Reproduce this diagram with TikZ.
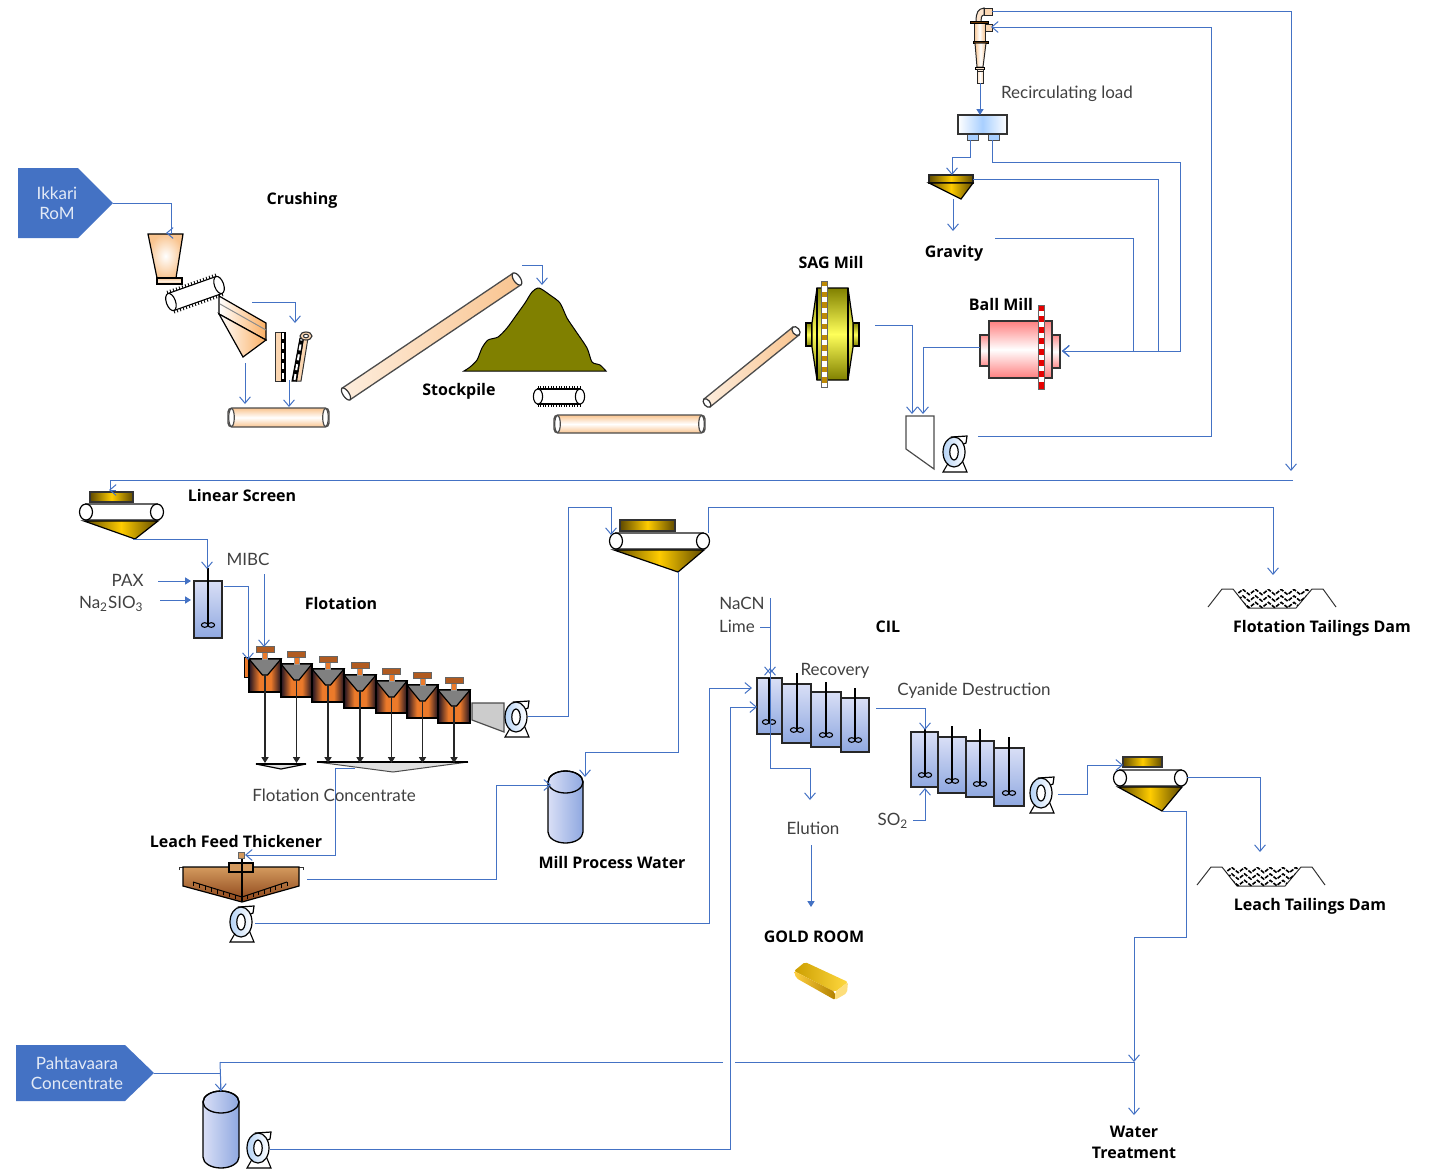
\documentclass[tikz,border=0pt]{standalone}
\usepackage{fontspec}
\setmainfont{Lato}
\newfontfamily\heavyfont{Open Sans}
\usetikzlibrary{arrows.meta}
\definecolor{flow}{HTML}{4472C4}
\definecolor{peach}{HTML}{F9C48F}
\definecolor{goldD}{HTML}{5F4A00}
\definecolor{goldM}{HTML}{FFCC00}
\definecolor{tankT}{HTML}{D9DFF6}
\definecolor{tankB}{HTML}{8FA8E0}
\definecolor{cellD}{HTML}{1E1222}
\definecolor{cellM}{HTML}{EC7A2A}
\definecolor{olive}{HTML}{808000}
\definecolor{txt}{HTML}{404040}
\definecolor{pumpB}{HTML}{B5D3F6}
\definecolor{distM}{HTML}{A8CFFF}
\definecolor{sagGear}{HTML}{BE8A06}
\definecolor{thickT}{HTML}{D49A5E}
\definecolor{thickB}{HTML}{8A4318}
\pgfdeclarehorizontalshading{cellshade}{100bp}{color(0bp)=(cellD); color(25bp)=(cellD); color(41bp)=(cellM); color(59bp)=(cellM); color(75bp)=(cellD); color(100bp)=(cellD)}
\tikzset{
  conn/.style={draw=flow,line width=.5pt,-{Straight Barb[length=3.2pt,width=5.4pt]}},
  connf/.style={draw=flow,line width=.5pt,-{Triangle[length=3pt,width=3.6pt]}},
  flowline/.style={draw=flow,line width=.5pt},
  outl/.style={draw=black,line width=.6pt},
  goldh/.style={left color=goldD,right color=goldD,middle color=goldM},
  tankv/.style={top color=tankT,bottom color=tankB},
  reg/.style={font=\fontsize{8.5}{10}\selectfont,text=txt,inner sep=0pt,yshift=-.6pt},
  hvy/.style={font=\heavyfont\bfseries\fontsize{8}{10.4}\selectfont,text=black,inner sep=0pt,align=center,yshift=-.6pt},
  pics/pumpunit/.style={code={
    \path[fill=white,draw=black,line width=.55pt] (-4,8) -- (-11,20) -- (13,20) -- (8,8) -- cycle;
    \path[draw=black,line width=.6pt,fill=white] (-2,-15) -- (13,-16) -- (12,-9) -- (7,-7) -- cycle;
    \path[draw=black,line width=.6pt,left color=pumpB,right color=white] (0,0) ellipse [x radius=11,y radius=15];
    \path[draw=black,line width=.6pt,fill=white] (0,0) ellipse [x radius=4.2,y radius=8];
  }},
  pics/damunit/.style={code={
    \draw[black!80,line width=.5pt] (-64,9) -- (-50,-9) -- (-39,-9) -- (-24,10) -- (24,10) -- (40,-9) -- (51,-9) -- (64,9);
    \begin{scope}
      \clip (-39,-9) -- (40,-9) -- (24,10) -- (-24,10) -- cycle;
      \foreach \ry in {-6,.5,7}
        \draw[black,line width=.8pt,dash pattern=on 2pt off .7pt]
          plot[samples at={0,...,13},variable=\k] ({-42+6.4*\k},{\ry+2.6*(2*mod(\k,2)-1)});
    \end{scope}
  }}
}
\newcommand\hshape[4]{% x1 y1 x2 y2 horizontal tube
  \path[draw=black!70,line width=.7pt,top color=peach,bottom color=peach,middle color=white,rounded corners=2pt] (#1,#2) rectangle (#3,#4);
  \path[draw=black!70,line width=.6pt,fill=white] ({#1+3.5},{(#2+#4)/2}) ellipse [x radius=2.8,y radius={(#4-#2)/2-.5}];
  \path[draw=black!70,line width=.6pt,fill=white] ({#3-3.5},{(#2+#4)/2}) ellipse [x radius=2.8,y radius={(#4-#2)/2-.5}];
}
\newcommand\slanttube[5]{% x1 y1 x2 y2 halfwidth
  \begin{scope}[shift={(#1,#2)}]
    \pgfmathsetmacro\tA{atan2(#2-#4,#3-#1)}
    \pgfmathsetmacro\tL{veclen(#3-#1,#4-#2)}
    \begin{scope}[rotate=\tA]
      \path[draw=black!70,line width=.65pt,left color=peach!30!white,right color=peach] (0,-#5) -- (\tL,-#5) -- (\tL,#5) -- (0,#5) -- cycle;
      \path[draw=black!80,line width=.6pt,fill=white] (0,0) ellipse [x radius=3,y radius=#5];
      \path[draw=black!80,line width=.6pt,fill=white] (\tL,0) ellipse [x radius=3.4,y radius=#5];
    \end{scope}
  \end{scope}
}
\newcommand\ticktube[5]{% cx cy angle half ry
  \begin{scope}[shift={(#1,#2)},rotate=#3]
    \foreach \t in {-1,-.875,...,1}{
      \draw[black,line width=.45pt] ({\t*#4},{-#5+1}) -- ({\t*#4},{-#5-3});
      \draw[black,line width=.45pt] ({\t*#4},{#5-1}) -- ({\t*#4},{#5+3});
    }
    \path[draw=black,line width=.55pt,fill=white] (-#4,-#5) -- (#4,-#5) -- (#4,#5) -- (-#4,#5) -- cycle;
    \path[draw=black,line width=.55pt,fill=white] (-#4,0) ellipse [x radius=4.6,y radius=#5];
    \path[draw=black,line width=.55pt,fill=white] (#4,0) ellipse [x radius=4.6,y radius=#5];
  \end{scope}
}
\newcommand\agtank[7]{% x1 y1 x2 y2 shafttop ix iy
  \path[draw=black!85,line width=.7pt,tankv] (#1,#2) rectangle (#3,#4);
  \draw[black,line width=.6pt] (#6,#5) -- (#6,#7);
  \draw[black,line width=.55pt] ({#6-3.3},#7) ellipse [x radius=3.3,y radius=2.3];
  \draw[black,line width=.55pt] ({#6+3.3},#7) ellipse [x radius=3.3,y radius=2.3];
}
\newcommand\scrunit[9]{% box x1 y1 x2 y2, lx rx cy, tip x y
  \path[draw=black!80,line width=.55pt,goldh] (#1,#2) rectangle (#3,#4);
  \path[draw=black!60,line width=.7pt,fill=white] (#5,{#7-8}) rectangle (#6,{#7+8});
  \path[draw=black,line width=.6pt,goldh] ({#5-2},{#7+9}) -- ({#6+1},{#7+9}) -- (#8,#9) -- cycle;
  \path[draw=black,line width=.6pt,fill=white] (#5,#7) ellipse [x radius=6.5,y radius=8];
  \path[draw=black,line width=.6pt,fill=white] (#6,#7) ellipse [x radius=6.5,y radius=8];
}
\newcommand\cylinder[4]{% x1 ytop x2 ybottom
  \path[draw=black,line width=.65pt,left color=tankT,right color=tankB]
    (#1,{#2+11}) arc[start angle=180,end angle=0,x radius={(#3-#1)/2},y radius=-11]
    -- (#3,{#4-11}) arc[start angle=0,end angle=-180,x radius={(#3-#1)/2},y radius=-11] -- cycle;
  \draw[black,line width=.65pt] ({(#1+#3)/2},{#2+11}) ellipse [x radius={(#3-#1)/2},y radius=11];
}
\begin{document}
\begin{tikzpicture}[x=.5pt,y=-.5pt]
\useasboundingbox (0,0) rectangle (1435,1168);
% ----- feed arrows
\path[fill=flow] (18,168) -- (78,168) -- (113,203) -- (78,238) -- (18,238) -- cycle;
\path[fill=flow] (16,1045) -- (125,1045) -- (154,1073) -- (125,1101) -- (16,1101) -- cycle;
\coordinate (ikkariTip) at (113,203);
\coordinate (pahtTip) at (154,1073);
% ----- crushing
\path[outl,inner color=white,outer color=peach] (148,234) -- (183,234) -- (176,278) -- (157,278) -- cycle;
\path[outl,top color=peach,bottom color=peach,middle color=peach!30!white] (157,278) rectangle (182,284);
\ticktube{195}{293.5}{19.5}{25.5}{9}
\path[outl,left color=white,right color=peach!70!orange] (219,296) -- (266,323) -- (266,340) -- (219,314) -- cycle;
\path[outl,left color=white,right color=peach!70!orange] (219,314) -- (266,340) -- (243,357) -- cycle;
\draw[black!45,line width=.5pt] (220,304) -- (266,330);
% vertical screens
\path[draw=black!80,line width=.5pt,fill=peach!70] (275,332) rectangle (281,381);
\path[draw=black,fill=black,line width=.5pt] (281,332) rectangle (285,381);
\draw[white,line width=1pt,dash pattern=on 3pt off 2pt] (283,333) -- (283,380);
\path[draw=black!80,line width=.5pt,fill=peach!70] (296.5,381) -- (301,381) -- (308,338) -- (303.5,338) -- cycle;
\path[draw=black,fill=black,line width=.5pt] (292,381) -- (296.5,381) -- (303.5,338) -- (300,338) -- cycle;
\draw[white,line width=1pt,dash pattern=on 3pt off 2pt] (294.5,380) -- (301.5,339);
\path[draw=black!80,line width=.55pt,fill=peach!70] (306,336) ellipse [x radius=6,y radius=4];
\path[draw=black!80,line width=.5pt,fill=white] (306,336) ellipse [x radius=2.6,y radius=1.8];
\hshape{228}{408}{329}{427}
\slanttube{346}{394}{517}{279}{7}
% ----- stockpile
\path[fill=olive,draw=black,line width=.5pt] plot[smooth,tension=.45] coordinates {(464,371) (470,367) (477,360) (482,348) (488,340) (498,337) (507,328) (515,317) (525,303) (532,292) (539,288) (550,295) (560,303) (567,318) (575,330) (587,348) (592,362) (600,365) (606,371)} -- cycle;
\ticktube{559}{396.5}{0}{21}{7.5}
\hshape{554}{415}{705}{433}
\slanttube{707}{403}{796}{331}{5}
% ----- SAG mill
\path[draw=black,line width=.6pt,top color=olive,bottom color=olive,middle color=yellow!65!white] (806,323) rectangle (812,346);
\path[draw=black,line width=.6pt,top color=olive,bottom color=olive,middle color=yellow!65!white] (853,323) rectangle (859,346);
\path[draw=black,line width=.6pt,top color=olive,bottom color=olive,middle color=yellow!65!white] (817,288) -- (848,288) -- (853,323) -- (853,347) -- (848,380) -- (817,380) -- (812,347) -- (812,323) -- cycle;
\draw[black,line width=.6pt] (817,288) -- (817,380) (848,288) -- (848,380);
\fill[white] (821,281) rectangle (827,387);
\foreach \k in {0,...,9} \fill[sagGear] (821,{281+\k*10.7}) rectangle (827,{281+\k*10.7+5.4});
\draw[black!60,line width=.4pt] (821,281) rectangle (827,387);
% ----- ball mill
\path[draw=black!80,line width=.6pt,top color=red!45!white,bottom color=red!45!white,middle color=white] (980,335) rectangle (989,366);
\path[draw=black!80,line width=.6pt,top color=red!45!white,bottom color=red!45!white,middle color=white] (1052,335) rectangle (1060,368);
\path[draw=black!80,line width=.6pt,top color=red!50!white,bottom color=red!50!white,middle color=white] (989,321) rectangle (1052,378);
\fill[white] (1038,305) rectangle (1044,389);
\foreach \k in {0,...,7} \fill[red!90!black] (1038,{305+\k*11}) rectangle (1044,{305+\k*11+5.5});
\fill[red!90!black] (1038,384) rectangle (1044,389);
\draw[black!60,line width=.4pt] (1038,305) rectangle (1044,389);
% ----- sump and pump
\path[draw=black!70,line width=.6pt,fill=white] (906,416) -- (934,416) -- (934,469) -- (906,449) -- cycle;
\pic at (954,452) {pumpunit};
% ----- cyclone
\path[draw=black!85,line width=.5pt,fill=peach!45] (976,22) .. controls (976,12) and (978,9) .. (984,8) -- (984,15) .. controls (981,15) and (981,19) .. (981,22) -- cycle;
\path[draw=black!85,line width=.5pt,fill=peach!70] (984,8) rectangle (992,15);
\path[draw=black!85,line width=.5pt,left color=peach,right color=peach,middle color=white] (974,23) rectangle (985,41);
\path[draw=black!85,line width=.5pt,fill=peach!70] (985,24) rectangle (992,31);
\path[draw=black,fill=black!30!orange!60!black,line width=.4pt] (970,21) rectangle (988,23);
\path[draw=black,fill=black!30!orange!60!black,line width=.4pt] (973,41) rectangle (988,43);
\path[draw=black!85,line width=.5pt,left color=peach,right color=peach,middle color=white] (975,43) -- (986,43) -- (983,67) -- (977,67) -- cycle;
\path[draw=black,fill=peach!50,line width=.4pt] (975,67) rectangle (984,69);
\path[draw=black!85,line width=.5pt,fill=peach!30] (977,69) rectangle (983,71);
\path[draw=black!85,line width=.5pt,left color=peach!60,right color=peach!60,middle color=white] (977,71) rectangle (983,83);
% ----- distributor
\path[draw=black!70,line width=.5pt,fill=distM] (967,134) rectangle (978,140);
\path[draw=black!70,line width=.5pt,fill=distM] (988,134) rectangle (999,140);
\path[draw=black!80,line width=.6pt,left color=white,right color=white,middle color=distM] (958,115) rectangle (1007,134);
% ----- gravity hopper
\path[draw=black!85,line width=.55pt,goldh] (929,175) rectangle (973,183);
\path[draw=black,line width=.6pt,goldh] (929,183) -- (973,183) -- (961,199) -- cycle;
% ----- linear screen and others
\scrunit{90}{492}{133}{502}{86}{157}{512}{135}{539}
\agtank{194}{581}{222}{638}{568}{208}{625}
\scrunit{620}{520}{675}{531}{616}{703}{541}{678}{572}
\scrunit{1123}{757}{1162}{767}{1120}{1181}{778}{1162}{811}
% ----- flotation bank
\path[draw=black,line width=.4pt,fill=cellM] (244,657) rectangle (249,677);
\foreach \n/\l/\r/\t/\b in {1/249/281/659/692,2/281/312/664/697,3/312/344/669/702,4/344/376/675/708,5/376/407/681/713,6/407/438/685/718,7/438/470/690/723}{
  \pgfmathsetmacro\cc{(\l+\r)/2}
  \path[draw=black,line width=.7pt,shading=cellshade] (\l,\t) rectangle (\r,\b);
  \path[draw=black,line width=.6pt,fill=black!50] (\l,\t) -- (\r,\t) -- ({\cc+2.5},{\t+16}) -- ({\cc-2.5},{\t+16}) -- cycle;
  \path[draw=black!40,line width=.4pt,fill=cellM] ({\cc-2.5},{\t-6.5}) rectangle ({\cc+2.5},\t);
  \path[draw=black!60,line width=.4pt,fill=cellM!75!black] ({\cc-9},{\t-13}) rectangle ({\cc+9},{\t-7});
  \coordinate (cell\n) at (\cc,{\t+16});
  \coordinate (launder\n) at (\cc,763);
}
\path[draw=black,line width=.6pt,fill=black!12] (256,764) -- (306,764) -- (281,769) -- cycle;
\path[draw=black!70,line width=.5pt,fill=black!12] (317,762) -- (468,762) -- (393,772) -- cycle;
\draw[black,line width=.8pt] (317,762) -- (468,762) (256,764) -- (306,764);
\foreach \n in {1,...,7}
  \draw[black!85,line width=.55pt,-{Triangle[length=3pt,width=3.6pt]}] (cell\n) -- (launder\n);
\path[draw=black!70,line width=.6pt,fill=black!20] (472,703) -- (504,703) -- (504,732) -- (472,720) -- cycle;
\pic at (516,717) {pumpunit};
% ----- dams
\pic at (1272,598) {damunit};
\pic at (1261,876) {damunit};
% ----- water tanks
\cylinder{548}{771}{583}{843}
\cylinder{203}{1091}{239}{1168}
\pic at (258,1148) {pumpunit};
% ----- thickener
\draw[black!80,line width=.5pt] (179,870) -- (179,867) -- (183,867) (303,870) -- (303,867) -- (299,867);
\path[draw=black,line width=.6pt,top color=thickT,bottom color=thickB] (183,867) -- (299,867) -- (299,886) -- (242,902) -- (183,886) -- cycle;
\draw[black,line width=.5pt] (193,882) -- (242,897) -- (287,882);
\foreach \t in {0,.125,...,1}{
  \draw[black,line width=.45pt] ({193+49*\t},{882+15*\t}) -- ({193+49*\t},{886+15*\t});
  \draw[black,line width=.45pt] ({287-45*\t},{882+15*\t}) -- ({287-45*\t},{886+15*\t});
}
\path[draw=black,line width=.6pt,fill=thickT] (229,863) rectangle (253,872);
\draw[black,line width=.6pt] (242,858) -- (242,902);
\path[draw=black!60,line width=.4pt,fill=thickT] (238,852) rectangle (244,858);
\pic at (241,922) {pumpunit};
% ----- CIL tanks
\agtank{757}{678}{782}{734}{678}{769}{722}
\agtank{782}{684}{811}{743}{673}{797}{730}
\agtank{811}{692}{841}{747}{682}{826}{735}
\agtank{841}{698}{869}{752}{688}{855}{740}
% ----- cyanide destruction tanks
\agtank{911}{732}{938}{787}{728}{925}{775}
\agtank{938}{737}{966}{793}{726}{952}{781}
\agtank{966}{741}{994}{797}{729}{980}{784}
\agtank{994}{748}{1024}{806}{737}{1009}{793}
\pic at (1041,793) {pumpunit};
% ----- gold bar
\path[rounded corners=1pt,left color=yellow!55!orange!80!black,right color=yellow!60!orange!75!white] (805,962) -- (848,982) -- (835,992) -- (794,971) -- cycle;
\path[rounded corners=1pt,left color=yellow!50!orange!75!white,right color=yellow!45!orange!70!black] (794,971) -- (835,992) -- (835,1000) -- (796,978) -- cycle;
\path[rounded corners=1pt,fill=yellow!55!orange!50!white] (835,992) -- (848,982) -- (847,993) -- (835,1000) -- cycle;
% ----- connector ports
\coordinate (hopperIn) at (166,233);
\coordinate (crushOut) at (252,302);
\coordinate (screenIn) at (295,323);
\coordinate (coneOut) at (245,363);
\coordinate (tubeA) at (245,404);
\coordinate (screenOut) at (289,380);
\coordinate (tubeB) at (289,407);
\coordinate (convEnd) at (522,265);
\coordinate (pileTop) at (542,285);
\coordinate (sagOut) at (875,325);
\coordinate (sumpA) at (912,414);
\coordinate (ballOut) at (980,347);
\coordinate (sumpB) at (923,414);
\coordinate (sumpPump) at (978,436);
\coordinate (cycFeed) at (991,27);
\coordinate (cycOver) at (992,11);
\coordinate (overEnd) at (1291,471);
\coordinate (cycUnder) at (980,83);
\coordinate (distTop) at (980,115);
\coordinate (distA) at (970,140);
\coordinate (gravTop) at (952,175);
\coordinate (distB) at (992,140);
\coordinate (ballIn) at (1062,351);
\coordinate (gravSide) at (973,179);
\coordinate (gravOut) at (953,199);
\coordinate (gravLab) at (953,231);
\coordinate (gravRet) at (995,238);
\coordinate (mainEnd) at (1293,480);
\coordinate (scrIn) at (109,490);
\coordinate (scrTip) at (133,539);
\coordinate (condIn) at (207,569);
\coordinate (paxFrom) at (158,581);
\coordinate (paxTo) at (191,581);
\coordinate (naFrom) at (160,600);
\coordinate (naTo) at (191,600);
\coordinate (condOut) at (224,586);
\coordinate (cellIn) at (248,660);
\coordinate (mibcFrom) at (264,574);
\coordinate (mibcTo) at (264,647);
\coordinate (tailPump) at (528,716);
\coordinate (scr2In) at (611,535);
\coordinate (scr2Top) at (708,533);
\coordinate (damOne) at (1273,575);
\coordinate (scr2Tip) at (678,572);
\coordinate (millTop) at (585,777);
\coordinate (concFrom) at (355,768);
\coordinate (thickIn) at (245,855);
\coordinate (thickOver) at (307,879);
\coordinate (millSide) at (551,785);
\coordinate (thickPump) at (255,923);
\coordinate (cilA) at (752,688);
\coordinate (pahtTop) at (221,1091);
\coordinate (pahtPump) at (270,1149);
\coordinate (cilB) at (757,707);
\coordinate (nacnFrom) at (770,598);
\coordinate (cilTop) at (770,674);
\coordinate (limeFrom) at (760,627);
\coordinate (limeTo) at (770,627);
\coordinate (elutFrom) at (770,668);
\coordinate (elutTo) at (810,800);
\coordinate (elutOut) at (811,845);
\coordinate (goldIn) at (811,907);
\coordinate (cilOut) at (876,708);
\coordinate (cnIn) at (925,730);
\coordinate (soFrom) at (913,820);
\coordinate (soTo) at (925,788);
\coordinate (cnPump) at (1058,794);
\coordinate (scr3In) at (1123,765);
\coordinate (scr3Side) at (1187,777);
\coordinate (damTwo) at (1260,852);
\coordinate (scr3Tip) at (1163,811);
\coordinate (waterJoin) at (1134,1062);
\coordinate (waterEnd) at (1134,1115);
% ----- connectors
\draw[conn] (ikkariTip) -| (171,233) -- (hopperIn);
\draw[conn] (crushOut) -| (screenIn);
\draw[conn] (coneOut) -- (tubeA);
\draw[conn] (screenOut) -- (tubeB);
\draw[conn] (convEnd) -| (pileTop);
\draw[conn] (sagOut) -| (sumpA);
\draw[conn] (ballOut) -| (sumpB);
\draw[conn] (sumpPump) -| (1211,27) -- (cycFeed);
\draw[conn] (cycOver) -| (overEnd);
\draw[connf] (cycUnder) -- (distTop);
\draw[conn] (distA) |- (952,157) -- (gravTop);
\draw[conn] (distB) |- (1180,162) |- (ballIn);
\draw[conn] (gravSide) -| (1158,351) -- (ballIn);
\draw[conn] (gravOut) -- (gravLab);
\draw[conn] (gravRet) -| (1133,351) -- (ballIn);
\draw[flowline] (mainEnd) -| (110,490);
\draw[conn] (116,490) -- (scrIn);
\draw[conn] (scrTip) -| (condIn);
\draw[connf] (paxFrom) -- (paxTo);
\draw[connf] (naFrom) -- (naTo);
\draw[conn] (condOut) -| (cellIn);
\draw[conn] (mibcFrom) -- (mibcTo);
\draw[conn] (tailPump) -| (568,507) -| (scr2In);
\draw[conn] (scr2Top) |- (1273,507) -- (damOne);
\draw[conn] (scr2Tip) |- (585,752) -- (millTop);
\draw[conn] (concFrom) -- (335,768) |- (thickIn);
\draw[conn] (thickOver) -| (496,785) -- (millSide);
\draw[conn] (thickPump) -| (709,688) -- (cilA);
\draw[flowline] (pahtTip) -| (220,1091);
\draw[conn] (220,1062) -- (pahtTop);
\draw[flowline] (waterJoin) -- (735,1062);
\draw[flowline] (723,1062) -- (220,1062);
\draw[conn] (pahtPump) -| (730,707) -- (cilB);
\draw[conn] (nacnFrom) -- (cilTop);
\draw[flowline] (limeFrom) -- (limeTo);
\draw[conn] (770,768) -- (elutFrom);
\draw[conn] (770,700) |- (810,768) -- (elutTo);
\draw[connf] (elutOut) -- (goldIn);
\draw[conn] (cilOut) -| (cnIn);
\draw[conn] (soFrom) -| (soTo);
\draw[conn] (cnPump) -| (1087,765) -- (scr3In);
\draw[conn] (scr3Side) -| (damTwo);
\draw[conn] (scr3Tip) -| (1186,937) -| (waterJoin);
\draw[conn] (waterJoin) -- (waterEnd);
% ----- labels
\node[font=\fontsize{8.5}{10}\selectfont,text=white!85!flow,align=center,inner sep=0pt] (ikkari) at (57,203.5) {Ikkari\\RoM};
\node[font=\fontsize{8.5}{10}\selectfont,text=white!85!flow,align=center,inner sep=0pt] (paht) at (77,1073.5) {Pahtavaara\\Concentrate};
\node[hvy] (lCrush) at (302,199) {Crushing};
\node[hvy] (lPile) at (459,390) {Stockpile};
\node[hvy] (lSag) at (831,261) {SAG Mill};
\node[hvy] (lGrav) at (954,252) {Gravity};
\node[hvy] (lBall) at (1001,303) {Ball Mill};
\node[reg] (lRecirc) at (1067,93) {Recirculating load};
\node[hvy] (lLin) at (242,494) {Linear Screen};
\node[reg] (lMibc) at (248,558) {MIBC};
\node[reg,anchor=east] (lPax) at (144,579) {PAX};
\node[reg,anchor=east] (lNa) at (144,603) {Na\textsubscript{2}SIO\textsubscript{3}};
\node[hvy] (lFlot) at (341,602) {Flotation};
\node[reg] (lNacn) at (742,602) {NaCN};
\node[reg] (lLime) at (737,625) {Lime};
\node[hvy] (lCil) at (888,625.5) {CIL};
\node[reg] (lRec) at (835,670) {Recovery};
\node[reg] (lCyan) at (974,689) {Cyanide Destruction};
\node[hvy] (lDam1) at (1322,627) {Flotation Tailings Dam};
\node[reg] (lConc) at (334,794) {Flotation Concentrate};
\node[hvy] (lThick) at (236,840) {Leach Feed Thickener};
\node[hvy] (lMill) at (612,861) {Mill Process Water};
\node[reg] (lElut) at (813,827) {Elution};
\node[reg] (lSo) at (893,820) {SO\textsubscript{2}};
\node[hvy] (lGold) at (814,936) {GOLD ROOM};
\node[hvy] (lDam2) at (1310,905) {Leach Tailings Dam};
\node[hvy] (lWater) at (1134,1141.5) {Water\\Treatment};
\end{tikzpicture}
\end{document}
